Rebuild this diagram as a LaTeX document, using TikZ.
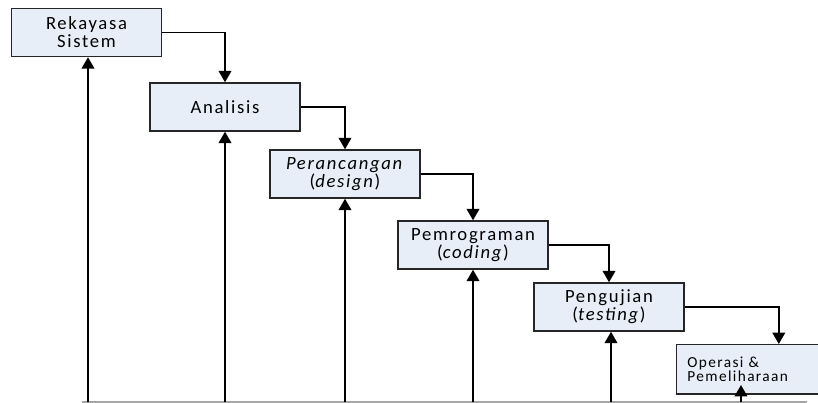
\documentclass[tikz,border=0pt]{standalone}
\usepackage{fontspec}
\setmainfont[LetterSpace=9]{Carlito}
\usetikzlibrary{arrows.meta}
\definecolor{isibox}{HTML}{E8EEF8}

\begin{document}
\begin{tikzpicture}[x=0.75pt,y=-0.75pt,
		tahap/.style={draw=black!85,fill=isibox,line width=1.1pt,minimum width=112.5pt,minimum height=36pt,inner sep=0pt,align=center,font=\fontsize{14}{13.5}\selectfont},
		alur/.style={line width=1.1pt,-{Triangle[length=8.5pt,width=9.5pt]}},
		balik/.style={line width=1.1pt,-{Triangle[length=8.5pt,width=9.5pt]}}]
		\useasboundingbox (0,0) rectangle (818,403);

		% tahapan
		\node[tahap] (rs) at (86.5,32.5)	{Rekayasa\\Sistem};
		\node[tahap] (an) at (225,107)		{Analisis};
		\node[tahap] (pr) at (345,174)		{\textit{Perancangan}\\(\textit{design})};
		\node[tahap] (pm) at (473,245)		{Pemrograman\\(\textit{coding})};
		\node[tahap] (pu) at (609,307)		{Pengujian\\(\textit{testing})};
		\node[tahap,minimum width=120pt,minimum height=37pt,anchor=north west,align=left,text width=110pt,
			font=\fontsize{11.5}{10}\selectfont] (op) at (676,344) {\hspace*{3pt}Operasi \&\\\hspace*{3pt}Pemeliharaan};

		% garis dasar
		\coordinate (kiri) at (82,402);
		\coordinate (kanan) at (807,402);
		\draw[gray!70,line width=0.8pt] (kiri) -- (kanan);

		% alur ke bawah
		\draw[alur] (rs.east) -| (an.north);
		\draw[alur] (an.east) -| (pr.north);
		\draw[alur] (pr.east) -| (pm.north);
		\draw[alur] (pm.east) -| (pu.north);
		\draw[alur] (pu.east) -| ([xshift=-44pt]op.north east);

		% umpan balik
		\coordinate (b1) at (88,402);
		\coordinate (b2) at (225,402);
		\coordinate (b3) at (345,402);
		\coordinate (b4) at (473,402);
		\coordinate (b5) at (611,402);
		\coordinate (b6) at (741,402);
		\coordinate (t6) at (741,385);
		\draw[balik] (b1) -- (b1 |- rs.south);
		\draw[balik] (b2) -- (an.south);
		\draw[balik] (b3) -- (pr.south);
		\draw[balik] (b4) -- (pm.south);
		\draw[balik] (b5) -- (b5 |- pu.south);
		\draw[balik] (b6) -- (t6);
\end{tikzpicture}
\end{document}
